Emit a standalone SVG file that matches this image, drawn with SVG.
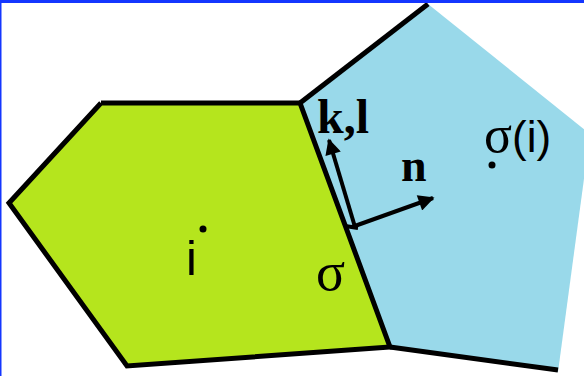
<svg xmlns="http://www.w3.org/2000/svg" width="584" height="376" viewBox="0 0 584 376">
<style>
.edge{fill:none;stroke:#000;stroke-width:5;stroke-linejoin:miter;stroke-linecap:butt}
.arr{fill:none;stroke:#000;stroke-width:4}
.serif{font-family:"Liberation Serif","Times New Roman",serif;fill:#000}
.sans{font-family:"Liberation Sans",Arial,sans-serif;fill:#000}
</style>
<defs>
<marker id="ah" viewBox="0 0 10 10" refX="9" refY="5" markerWidth="5" markerHeight="4" orient="auto" markerUnits="strokeWidth">
<path d="M0,0 L10,5 L0,10 z" fill="#000"/>
</marker>
</defs>
<rect x="0" y="0" width="584" height="376" fill="#fff"/>
<g id="cell-sigma-i">
<polygon points="300,103 428,4 590,134 558,372 390,347" fill="#99d9ea"/>
</g>
<g id="cell-i">
<polygon points="101,103 300,103 390,347 127,366 9,203" fill="#b5e51d"/>
</g>
<g id="connectors">
<polyline class="edge" points="101,103 300,103 390,347 127,366 9,203 101,103"/>
<line class="edge" x1="300" y1="103" x2="428" y2="4"/>
<line class="edge" x1="390" y1="347" x2="558" y2="370"/>
<line class="arr" x1="355" y1="227" x2="329" y2="140" marker-end="url(#ah)"/>
<line class="arr" x1="352" y1="227" x2="433" y2="198" marker-end="url(#ah)"/>
<line class="arr" x1="345" y1="226" x2="358" y2="228"/>
</g>
<g id="labels">
<circle cx="203" cy="229" r="3.5" fill="#000"/>
<circle cx="492" cy="165" r="3.5" fill="#000"/>
<text class="serif" x="317" y="133" font-size="48" font-weight="bold">k,l</text>
<text class="serif" x="401" y="181" font-size="46" font-weight="bold">n</text>
<text x="484" y="152"><tspan class="serif" font-size="52">σ</tspan><tspan class="sans" font-size="44">(i)</tspan></text>
<text class="sans" x="186" y="275" font-size="49">i</text>
<text class="serif" x="316" y="290" font-size="54">σ</text>
</g>
<rect x="0" y="0" width="584" height="3" fill="#1436ff"/>
<rect x="0" y="0" width="1.5" height="376" fill="#1436ff"/>
</svg>
